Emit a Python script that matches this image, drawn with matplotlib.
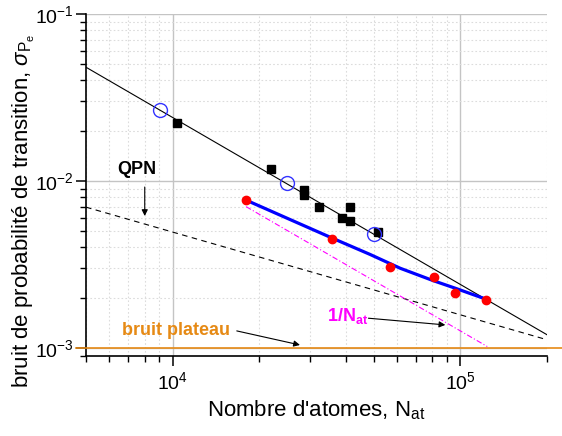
import matplotlib
matplotlib.use("Agg")
import matplotlib.pyplot as plt
from matplotlib.ticker import LogLocator, NullFormatter, LogFormatterSciNotation

plt.rcParams['font.family'] = ['Liberation Sans', 'DejaVu Sans']
plt.rcParams['mathtext.fontset'] = 'custom'
plt.rcParams['mathtext.rm'] = 'Liberation Sans'
plt.rcParams['mathtext.it'] = 'Liberation Sans:italic'
plt.rcParams['mathtext.bf'] = 'Liberation Sans:bold'

# ---- data ----
sq_x = [10350, 21950, 28600, 28600, 32340, 41480, 38900, 41480, 51920]
sq_y = [0.02216, 0.01175, 0.00883, 0.00825, 0.00696, 0.00696, 0.00598, 0.00576, 0.00497]

circ_x = [9010, 25020, 50150]
circ_y = [0.0266, 0.00977, 0.00482]

red_x = [17950, 35890, 57040, 80730, 96070, 123200]
red_y = [0.00764, 0.00448, 0.00307, 0.00267, 0.00213, 0.00194]

fit_x = [17970, 25570, 36100, 48570, 61800, 80530, 96070, 122200]
fit_y = [0.00769, 0.00588, 0.004526, 0.00363, 0.003001, 0.002529, 0.002278, 0.001965]

line_x = [5000, 200000]
line_y = [0.048, 0.0012]

qpn_x = [5000, 200000]
qpn_y = [0.00697, 0.00112]

inv_x = [18000, 124000]
inv_y = [0.00702, 0.00102]

plateau_x = [4630, 226000]
plateau_y = [0.001, 0.001]

orange = '#E68A15'
magenta = '#FF00FF'

fig = plt.figure(figsize=(5.62, 4.36), dpi=100)
ax = fig.add_axes([86/562, 1-356/436, (547-86)/562, (356-14)/436])
ax.set_xscale('log')
ax.set_yscale('log')
ax.set_xlim(5000, 200000)
ax.set_ylim(0.000895, 0.1)

# grid
ax.grid(which='major', color='#c4c4c4', lw=1.0, ls='-', zorder=0)
ax.grid(which='minor', color='#dcdcdc', lw=0.8, ls=(0, (1.5, 2)), zorder=0)

ax.plot(line_x, line_y, color='black', lw=0.8, zorder=3)
ax.plot(qpn_x, qpn_y, color='black', lw=0.8, ls=(0, (5, 4)), zorder=3)
ax.plot(inv_x, inv_y, color=magenta, lw=0.8, ls=(0, (5, 2, 1, 2)), zorder=3)
ax.plot(plateau_x, plateau_y, color=orange, lw=1.2, zorder=4, clip_on=False)

ax.plot(fit_x, fit_y, color='#0000FF', lw=2.3, zorder=5, solid_capstyle='round', solid_joinstyle='round')
ax.plot(sq_x, sq_y, ls='none', marker='s', ms=5.5, color='black', zorder=6)
ax.plot(red_x, red_y, ls='none', marker='o', ms=6, color='#FF0000', mec='#FF0000', zorder=6)
ax.plot(circ_x, circ_y, ls='none', marker='o', ms=10, mfc='none', mec='#3333FF', mew=1.0, zorder=7)

# annotations
arrow = dict(arrowstyle='-|>', color='black', lw=0.8, mutation_scale=9,
             shrinkA=0, shrinkB=0)
ax.text(7494, 0.01164, 'QPN', fontsize=13, fontweight='bold', ha='center', va='center')
ax.annotate('', xy=(8000, 0.00617), xytext=(8000, 0.0092), arrowprops=arrow)

ax.text(10300, 0.00128, 'bruit plateau', fontsize=13, fontweight='bold', color=orange,
        ha='center', va='center')
ax.annotate('', xy=(27700, 0.001042), xytext=(16710, 0.001265), arrowprops=arrow)

ax.text(34330, 0.00156, r'1/N$_{\mathbf{at}}$', fontsize=13, fontweight='bold', color=magenta,
        ha='left', va='center')
ax.annotate('', xy=(88640, 0.001374), xytext=(47920, 0.001507), arrowprops=arrow)

# axes style
for s in ['top', 'right']:
    ax.spines[s].set_visible(False)
for s in ['left', 'bottom']:
    ax.spines[s].set_linewidth(1.2)

ax.xaxis.set_major_locator(LogLocator(base=10, numticks=10))
ax.xaxis.set_minor_locator(LogLocator(base=10, subs=range(2, 10), numticks=20))
ax.yaxis.set_major_locator(LogLocator(base=10, numticks=10))
ax.yaxis.set_minor_locator(LogLocator(base=10, subs=range(2, 10), numticks=20))
ax.xaxis.set_minor_formatter(NullFormatter())
ax.yaxis.set_minor_formatter(NullFormatter())
ax.xaxis.set_major_formatter(LogFormatterSciNotation())
ax.yaxis.set_major_formatter(LogFormatterSciNotation())
ax.tick_params(which='major', direction='out', length=7, width=1.1, labelsize=14, pad=4)
ax.tick_params(which='minor', direction='out', length=4.5, width=1.0)
ax.tick_params(axis='y', which='major', pad=2)

ax.set_xlabel(r"Nombre d'atomes, N$_{\mathregular{at}}$", fontsize=16)
ax.set_ylabel(r"bruit de probabilité de transition, $\sigma_{\mathregular{P_e}}$", fontsize=16)
ax.yaxis.set_label_coords(-0.107, 0.425)

fig.savefig('out.png', dpi=100)
